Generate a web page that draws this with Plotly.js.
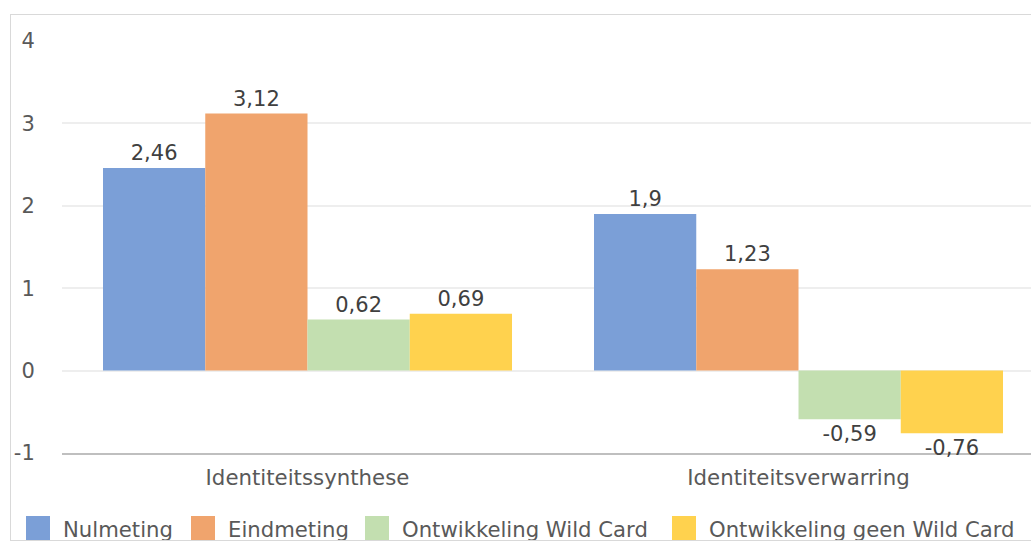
<!DOCTYPE html>
<html>
<head>
<meta charset="utf-8">
<script src="https://cdn.plot.ly/plotly-3.0.1.min.js"></script>
<style>
  html, body { margin: 0; padding: 0; background: #ffffff; overflow: hidden; }
  #wrap { position: relative; width: 1031px; height: 541px; overflow: hidden; }
  #chart { position: absolute; left: 0; top: 0; width: 1031px; height: 541px; }
  #frame { position: absolute; left: 10px; top: 14px; width: 1100px; height: 525px;
           border: 1px solid #d9d9d9; pointer-events: none; }
</style>
</head>
<body>
<div id="wrap">
  <div id="chart"></div>
  <div id="frame"></div>
</div>
<script>
// Categories and series
const categories = ['Identiteitssynthese', 'Identiteitsverwarring'];
const seriesNames = ['Nulmeting', 'Eindmeting', 'Ontwikkeling Wild Card', 'Ontwikkeling geen Wild Card'];
const nulmeting = [2.46, 1.9];
const eindmeting = [3.12, 1.23];
const ontwikkelingWildCard = [0.62, -0.59];
const ontwikkelingGeenWildCard = [0.69, -0.76];
const seriesColors = ['#7b9fd7', '#f0a46d', '#c3dfb0', '#ffd24e'];

// Y axis ticks
const yTickVals = [-1, 0, 1, 2, 3, 4];
const yTickText = ['-1', '0', '1', '2', '3', '4'];

const FONT = 'DejaVu Sans, sans-serif';

// Figure geometry (pixels)
const W = 1031, H = 541;
const M = { l: 62, r: 0, t: 41, b: 88 };
const plotW = W - M.l - M.r;
const plotH = H - M.t - M.b;
const px2x = px => (px - M.l) / plotW;          // pixel -> paper x
const px2y = py => (H - M.b - py) / plotH;      // pixel -> paper y

// Dutch number format: comma as decimal separator, plain hyphen for negatives
const fmt = v => String(v).replace('.', ',');

const seriesValues = [nulmeting, eindmeting, ontwikkelingWildCard, ontwikkelingGeenWildCard];

const traces = seriesValues.map((vals, i) => ({
  type: 'bar',
  name: seriesNames[i],
  x: categories,
  y: vals,
  text: vals.map(fmt),
  textposition: 'outside',
  textfont: { family: FONT, size: 21, color: '#404040' },
  cliponaxis: false,
  marker: { color: seriesColors[i], line: { width: 0 } },
  hoverinfo: 'x+y+name'
}));

// Legend along the bottom: swatch + label per series
const legendSwatchLeft = [26, 191, 365, 672];
const swatchSize = 24;
const legendTop = 516;
const legendShapes = seriesNames.map((name, i) => ({
  type: 'rect',
  xref: 'paper', yref: 'paper',
  x0: px2x(legendSwatchLeft[i]), x1: px2x(legendSwatchLeft[i] + swatchSize),
  y0: px2y(legendTop), y1: px2y(legendTop + swatchSize),
  fillcolor: seriesColors[i],
  line: { width: 0 },
  layer: 'above'
}));
const legendLabels = seriesNames.map((name, i) => ({
  xref: 'paper', yref: 'paper',
  x: px2x(legendSwatchLeft[i] + 35), y: px2y(529),
  xanchor: 'left', yanchor: 'middle',
  text: name,
  showarrow: false,
  font: { family: FONT, size: 21.2, color: '#595959' }
}));

const layout = {
  width: W,
  height: H,
  margin: { l: M.l, r: M.r, t: M.t, b: M.b, pad: 0, autoexpand: false },
  paper_bgcolor: '#ffffff',
  plot_bgcolor: '#ffffff',
  font: { family: FONT, size: 21, color: '#595959' },
  separators: ',.',
  barmode: 'group',
  bargap: 0.167,
  bargroupgap: 0,
  showlegend: false,
  shapes: legendShapes,
  annotations: legendLabels,
  xaxis: {
    type: 'category',
    range: [-0.5, 1.4735],
    autorange: false,
    layer: 'below traces',
    showgrid: false,
    zeroline: false,
    showline: true,
    linecolor: '#bfbfbf',
    linewidth: 2,
    ticks: 'outside',
    ticklen: 4,
    tickcolor: 'rgba(0,0,0,0)',
    tickfont: { family: FONT, size: 21.3, color: '#595959' },
    fixedrange: true
  },
  yaxis: {
    range: [-1, 4],
    autorange: false,
    layer: 'below traces',
    tickvals: yTickVals,
    ticktext: yTickText,
    showgrid: true,
    gridcolor: '#eeeeee',
    gridwidth: 2,
    zeroline: true,
    zerolinecolor: '#eeeeee',
    zerolinewidth: 2,
    showline: false,
    ticks: 'outside',
    ticklen: 22,
    tickcolor: 'rgba(0,0,0,0)',
    tickfont: { family: FONT, size: 21, color: '#595959' },
    fixedrange: true
  }
};

Plotly.newPlot('chart', traces, layout, { displayModeBar: false, staticPlot: true });
</script>
</body>
</html>
